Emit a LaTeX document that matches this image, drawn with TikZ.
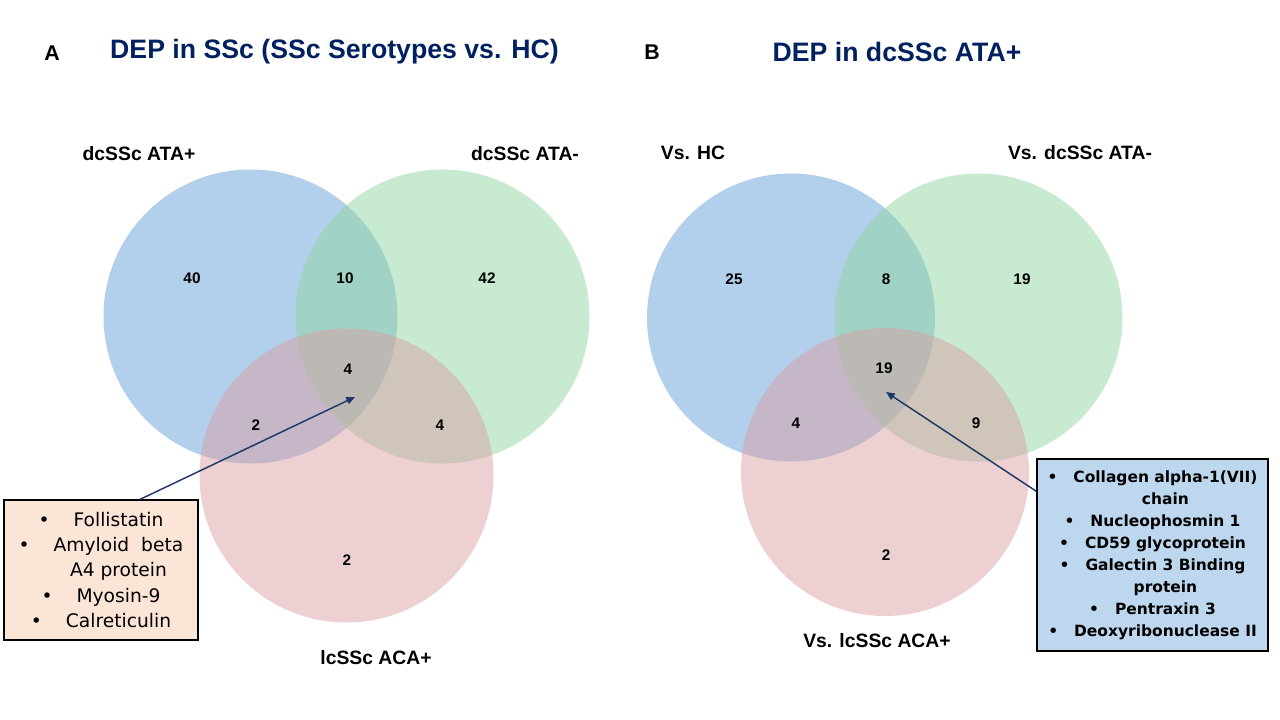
\documentclass[tikz,border=0pt]{standalone}
\usepackage{fontspec}
\setmainfont{Liberation Sans}
\newfontfamily\listfont{DejaVu Sans}
\usetikzlibrary {arrows.meta}
\usetikzlibrary {math}

\definecolor{titlenavy}{HTML}{002060}
\definecolor{arrownavy}{HTML}{1F3864}
\definecolor{vennblue}{RGB}{101,159,217}
\definecolor{venngreen}{RGB}{145,213,161}
\definecolor{vennpink}{RGB}{217,161,165}
\definecolor{peach}{HTML}{FBE5D6}
\definecolor{paleblue}{HTML}{BDD7EE}

\begin{document}
\begin{tikzpicture}[x=0.75pt, y=-0.75pt,
    title/.style={text=titlenavy, font=\fontsize{20}{24}\selectfont\bfseries},
    panel/.style={font=\fontsize{16}{19}\selectfont\bfseries},
    setlabel/.style={font=\fontsize{14.5}{17}\selectfont\bfseries},
    num/.style={font=\fontsize{11.5}{13}\selectfont\bfseries},
    venn/.style={fill opacity=0.5},
    protbox/.style={draw, line width=1.1pt, inner sep=0pt, align=center},
    pointer/.style={draw=arrownavy, line width=1.1pt, -{Triangle[length=6.5pt, width=5.5pt]}}]

    \useasboundingbox (0,0) rectangle (1280,720);

    \begin{scope}
        \tikzmath{
            \rad = 147;
            \xb = 250.5;
            \xg = 442.5;
            \yt = 316.5;
            \xp = 346.5;
            \yp = 475.5;
        };
        \coordinate (CA1) at (\xb, \yt);
        \coordinate (CA2) at (\xg, \yt);
        \coordinate (CA3) at (\xp, \yp);
        \fill[venn, vennblue] (CA1) circle (\rad);
        \fill[venn, venngreen] (CA2) circle (\rad);
        \fill[venn, vennpink] (CA3) circle (\rad);

        \node[panel] (pA) at (52, 53) {A};
        \node[title] (tA) at (334.5, 52) {DEP in SSc (SSc Serotypes vs. HC)};

        \node[setlabel] (sA1) at (139, 154) {dcSSc ATA+};
        \node[setlabel] (sA2) at (525, 154) {dcSSc ATA-};
        \node[setlabel] (sA3) at (376, 658) {lcSSc ACA+};

        \foreach \v/\px/\py [count=\i] in {40/192/278, 10/345/278, 42/487/278, 4/348/369,
                                          2/256/425, 4/440/425, 2/347/560}
            \node[num] (a\i) at (\px, \py) {\v};

        \node[protbox, fill=peach, minimum width=145.5pt, minimum height=105pt,
              font=\listfont\fontsize{14}{19.1}\selectfont] (boxA) at (101, 570)
            {•\hspace{18pt}Follistatin\\
             •\hspace{18pt}Amyloid\ \ beta\\
             \hphantom{•\hspace{18pt}}A4 protein\\
             •\hspace{18pt}Myosin-9\\
             •\hspace{18pt}Calreticulin};

        \path (boxA.north west) ++(137, 0) coordinate (tailA);
        \coordinate (tipA) at (355, 397);
        \draw[pointer] (tailA) -- (tipA);
    \end{scope}

    \begin{scope}
        \tikzmath{
            \rad = 144;
            \xb = 791;
            \xg = 978.5;
            \yt = 317.5;
            \xp = 885;
            \yp = 472;
        };
        \coordinate (CB1) at (\xb, \yt);
        \coordinate (CB2) at (\xg, \yt);
        \coordinate (CB3) at (\xp, \yp);
        \fill[venn, vennblue] (CB1) circle (\rad);
        \fill[venn, venngreen] (CB2) circle (\rad);
        \fill[venn, vennpink] (CB3) circle (\rad);

        \node[panel] (pB) at (652, 52) {B};
        \node[title] (tB) at (897, 52) {DEP in dcSSc ATA+};

        \node[setlabel] (sB1) at (693, 153) {Vs. HC};
        \node[setlabel] (sB2) at (1080, 153) {Vs. dcSSc ATA-};
        \node[setlabel] (sB3) at (877, 641) {Vs. lcSSc ACA+};

        \foreach \v/\px/\py [count=\i] in {25/734/279, 8/886/279, 19/1022/279, 19/884/368,
                                          4/796/423, 9/976/423, 2/886/555}
            \node[num] (b\i) at (\px, \py) {\v};

        \node[protbox, fill=paleblue, minimum width=173.25pt, minimum height=144pt,
              font=\listfont\bfseries\fontsize{11.6}{16.5}\selectfont] (boxB) at (1152.5, 555)
            {•\hspace{12pt}Collagen alpha-1(VII)\\
             \hphantom{•\hspace{12pt}}chain\\
             •\hspace{12pt}Nucleophosmin 1\\
             •\hspace{12pt}CD59 glycoprotein\\
             •\hspace{12pt}Galectin 3 Binding\\
             \hphantom{•\hspace{12pt}}protein\\
             •\hspace{12pt}Pentraxin 3\\
             •\hspace{12pt}Deoxyribonuclease II};

        \path (boxB.north west) ++(0, 33) coordinate (tailB);
        \coordinate (tipB) at (886, 392);
        \draw[pointer] (tailB) -- (tipB);
    \end{scope}

\end{tikzpicture}
\end{document}
